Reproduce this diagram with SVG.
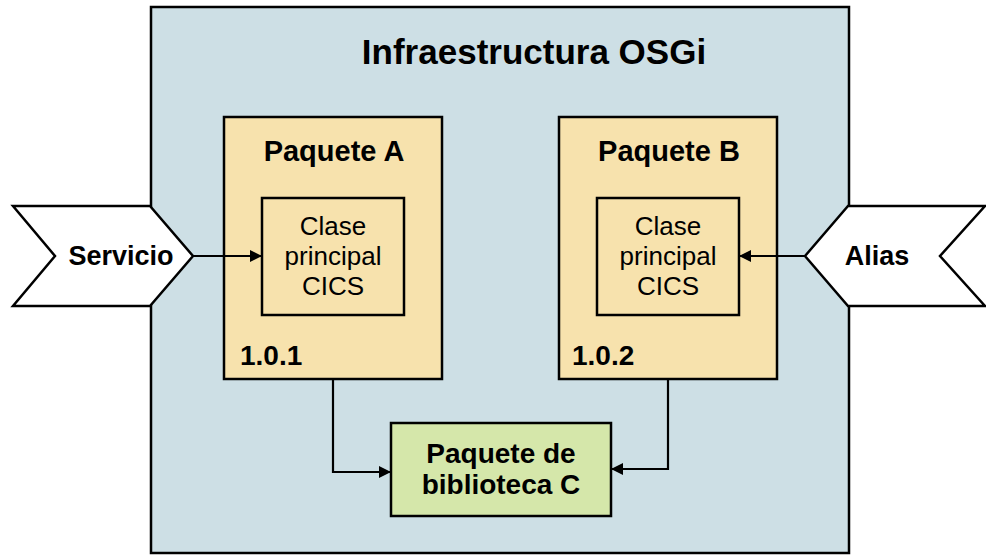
<svg xmlns="http://www.w3.org/2000/svg" width="986" height="555" viewBox="0 0 986 555">
<style>
.b{font-family:"Liberation Sans",Arial,sans-serif;font-weight:bold;fill:#000}
.r{font-family:"Liberation Sans",Arial,sans-serif;font-weight:normal;fill:#000}
.box{stroke:#000;stroke-width:2.5}
.ln{fill:none;stroke:#000;stroke-width:2.2}
</style>
<defs>
<marker id="ah" viewBox="0 0 10 10" refX="10" refY="5" markerWidth="12" markerHeight="12" markerUnits="userSpaceOnUse" orient="auto">
<path d="M0,0 L10,5 L0,10 z" fill="#000"/>
</marker>
</defs>
<rect width="986" height="555" fill="#fff"/>
<g id="osgi">
<rect class="box" x="151" y="7" width="698" height="546" fill="#cddfe5"/>
<text class="b" x="534" y="64" font-size="35" text-anchor="middle">Infraestructura OSGi</text>
</g>
<g id="paqueteA">
<rect class="box" x="224" y="117" width="218" height="262" fill="#f7e2ad"/>
<text class="b" x="334" y="161" font-size="29" text-anchor="middle">Paquete A</text>
<text class="b" x="240" y="365" font-size="28">1.0.1</text>
</g>
<g id="claseA">
<rect class="box" x="262" y="198" width="142" height="117" fill="#f7e2ad"/>
<text class="r" x="333" y="235" font-size="26" text-anchor="middle">Clase</text>
<text class="r" x="333" y="265" font-size="26" text-anchor="middle">principal</text>
<text class="r" x="333" y="295" font-size="26" text-anchor="middle">CICS</text>
</g>
<g id="paqueteB">
<rect class="box" x="559" y="117" width="218" height="262" fill="#f7e2ad"/>
<text class="b" x="669" y="161" font-size="29" text-anchor="middle">Paquete B</text>
<text class="b" x="572" y="365" font-size="28">1.0.2</text>
</g>
<g id="claseB">
<rect class="box" x="597" y="198" width="142" height="117" fill="#f7e2ad"/>
<text class="r" x="668" y="235" font-size="26" text-anchor="middle">Clase</text>
<text class="r" x="668" y="265" font-size="26" text-anchor="middle">principal</text>
<text class="r" x="668" y="295" font-size="26" text-anchor="middle">CICS</text>
</g>
<g id="biblioteca">
<rect class="box" x="391" y="423" width="220" height="93" fill="#d5e7aa"/>
<text class="b" x="501" y="463" font-size="28" text-anchor="middle">Paquete de</text>
<text class="b" x="501" y="494" font-size="28" text-anchor="middle">biblioteca C</text>
</g>
<g id="servicio">
<polygon class="box" points="13,206 150,206 193,256 150,306 13,306 55,256" fill="#fff"/>
<text class="b" x="121" y="265" font-size="27" text-anchor="middle">Servicio</text>
</g>
<g id="alias">
<polygon class="box" points="805,256 848,206 985,206 940,256 985,306 848,306" fill="#fff"/>
<text class="b" x="877" y="265" font-size="27" text-anchor="middle">Alias</text>
</g>
<g id="connectors">
<line class="ln" x1="193" y1="256" x2="262" y2="256" marker-end="url(#ah)"/>
<line class="ln" x1="805" y1="256" x2="739" y2="256" marker-end="url(#ah)"/>
<polyline class="ln" points="333,379 333,472 391,472" marker-end="url(#ah)"/>
<polyline class="ln" points="668,379 668,469 611,469" marker-end="url(#ah)"/>
</g>
</svg>
